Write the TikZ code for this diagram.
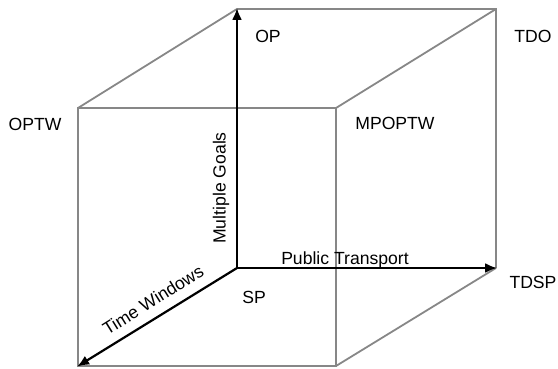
\documentclass[tikz,border=0pt]{standalone}
\usepackage{fontspec}
\setmainfont{Liberation Sans}
\usetikzlibrary{arrows.meta}
\begin{document}
\begin{tikzpicture}[x=1pt,y=-1pt,
  edge/.style={draw=black!47,line width=1.8pt,line join=miter},
  axis/.style={draw=black,line width=2.2pt,-{Latex[length=12pt,width=10pt]},shorten >=-1pt},
  lbl/.style={inner sep=0pt,font=\fontsize{17.6}{20}\selectfont,anchor=base},
  axlbl/.style={inner sep=0pt,font=\fontsize{17.6}{20}\selectfont}]
\useasboundingbox (0,0) rectangle (558,369);
% corners
\coordinate (O) at (237,268);
\coordinate (BTL) at (237,9);
\coordinate (BTR) at (496,9);
\coordinate (BBR) at (496,268);
\coordinate (FTL) at (78,108);
\coordinate (FTR) at (336,108);
\coordinate (FBR) at (336,366);
\coordinate (FBL) at (78,366);
% gray edges
\draw[edge] (FTL) -- (FTR) -- (FBR) -- (FBL) -- cycle;
\draw[edge] (FTL) -- (BTL) -- (BTR) -- (BBR);
\draw[edge] (FTR) -- (BTR);
\draw[edge] (FBR) -- (BBR);
% axes
\draw[axis] (O) -- (BTL);
\draw[axis] (O) -- (BBR);
\draw[axis] (O) -- (FBL);
% corner labels
\node[lbl] (op) at (268,43) {OP};
\node[lbl] (tdo) at (533,43) {TDO};
\node[lbl] (optw) at (35,131) {OPTW};
\node[lbl] (mpoptw) at (395,130) {MPOPTW};
\node[lbl] (sp) at (254,303) {SP};
\node[lbl] (tdsp) at (533,288) {TDSP};
% axis labels
\node[lbl] (pt) at (345,264) {Public Transport};
\node[axlbl,rotate=90] (mg) at (221,188) {Multiple Goals};
\node[axlbl,rotate=31.9] (tw) at (153,300) {Time Windows};
\end{tikzpicture}
\end{document}
